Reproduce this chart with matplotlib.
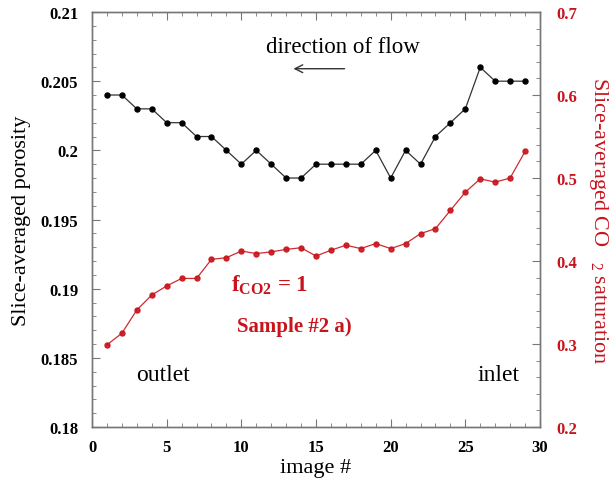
import matplotlib

matplotlib.use("Agg")
import matplotlib.pyplot as plt
from matplotlib.ticker import MultipleLocator, FuncFormatter

plt.rcParams["font.family"] = ["Liberation Serif", "DejaVu Serif"]
plt.rcParams["mathtext.fontset"] = "custom"
plt.rcParams["mathtext.rm"] = "Liberation Serif"
plt.rcParams["mathtext.bf"] = "Liberation Serif:bold"

RED = "#c8141c"
SPINE = "#777777"

image_no = list(range(1, 30))
porosity = [0.204, 0.204, 0.203, 0.203, 0.202, 0.202, 0.201, 0.201, 0.200, 0.199,
            0.200, 0.199, 0.198, 0.198, 0.199, 0.199, 0.199, 0.199, 0.200, 0.198,
            0.200, 0.199, 0.201, 0.202, 0.203, 0.206, 0.205, 0.205, 0.205]
co2_saturation = [0.299, 0.313, 0.341, 0.359, 0.370, 0.379, 0.379, 0.402, 0.404, 0.412,
                  0.409, 0.411, 0.414, 0.416, 0.406, 0.413, 0.419, 0.415, 0.421, 0.415,
                  0.421, 0.433, 0.439, 0.461, 0.483, 0.499, 0.495, 0.500, 0.532]

fig = plt.figure(figsize=(6.11, 4.89), dpi=100)
ax = fig.add_axes([0.1506, 0.1247, 0.7332, 0.8487])
ax2 = ax.twinx()

ax.plot(image_no, porosity, color="#333333", lw=0.9, marker="o", ms=3.6,
        mfc="black", mec="black", zorder=3)
ax2.plot(image_no, co2_saturation, color=RED, lw=0.9, marker="o", ms=3.6,
         mfc=RED, mec=RED, alpha=0.9, zorder=3)

ax.set_xlim(0, 30)
ax.set_ylim(0.18, 0.21)
ax2.set_ylim(0.2, 0.7)

ax.xaxis.set_major_locator(MultipleLocator(5))
ax.xaxis.set_minor_locator(MultipleLocator(1))
ax.yaxis.set_major_locator(MultipleLocator(0.005))
ax.yaxis.set_minor_locator(MultipleLocator(0.001))
ax2.yaxis.set_major_locator(MultipleLocator(0.1))
ax2.yaxis.set_minor_locator(MultipleLocator(0.02))

ax.xaxis.set_major_formatter(FuncFormatter(lambda v, p: f"{v:g}"))
ax.yaxis.set_major_formatter(FuncFormatter(lambda v, p: f"{round(v, 3):g}"))
ax2.yaxis.set_major_formatter(FuncFormatter(lambda v, p: f"{round(v, 2):g}"))

ax.tick_params(which="both", direction="in", top=True, right=False, colors=SPINE,
               labelcolor="black", labelsize=12)
ax.tick_params(which="major", length=5.5)
ax.tick_params(which="minor", length=3)
ax.tick_params(axis="x", which="major", pad=8.5)
ax.tick_params(axis="y", which="major", pad=10)
ax2.tick_params(which="both", direction="in", colors=SPINE, labelcolor=RED,
                labelsize=12)
ax2.tick_params(which="major", length=5.5, pad=12)
ax2.tick_params(which="minor", length=3)

for a in (ax, ax2):
    for s in a.spines.values():
        s.set_color(SPINE)
        s.set_linewidth(1.0)

fig.canvas.draw()
for lbl in ax.get_xticklabels() + ax.get_yticklabels() + ax2.get_yticklabels():
    lbl.set_fontweight("bold")

ax.set_xlabel("image #", fontsize=16, va="center")
ax.xaxis.set_label_coords(0.5, -0.097)
ax.set_ylabel("Slice-averaged porosity", fontsize=16, va="center")
ax.yaxis.set_label_coords(-0.158, 0.5)
ax2.set_ylabel("Slice-averaged CO$_{\\ \\ \\ 2}$ saturation", fontsize=16,
               color=RED, rotation=270, va="center")
ax2.yaxis.set_label_coords(1.13, 0.5)

ax.text(16.8, 0.2075, "direction of flow", fontsize=16.5, ha="center", va="center")
ax.annotate("", xy=(13.3, 0.2059), xytext=(17.1, 0.2059),
            arrowprops=dict(arrowstyle="->", color="#333333", lw=1.0,
                            mutation_scale=14))
ax.text(2.95, 0.1838, "outlet", fontsize=17, ha="left", va="center")
ax.text(28.66, 0.1838, "inlet", fontsize=17, ha="right", va="center")
ax.text(9.3, 0.1903, "$\\mathbf{f_{CO2}}$ = 1", fontsize=16.5, color=RED,
        fontweight="bold", ha="left", va="center")
ax.text(9.7, 0.1873, "Sample #2 a)", fontsize=15, color=RED,
        fontweight="bold", ha="left", va="center")

fig.savefig("out.png", dpi=100)
